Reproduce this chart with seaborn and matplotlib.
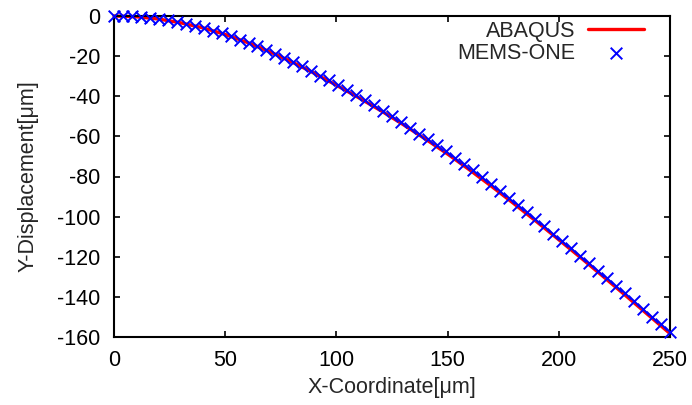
import matplotlib
matplotlib.use("Agg")
import matplotlib.pyplot as plt
import seaborn as sns
import pandas as pd

# ABAQUS reference curve
abaqus_x = [0, 10, 20, 30, 40, 50, 60, 70, 80, 90, 100, 110, 120, 130, 140,
            150, 160, 170, 180, 190, 200, 210, 220, 230, 240, 250]
abaqus_y = [0.0, -0.37, -1.5, -3.4, -5.9, -9.2, -13.2, -17.8, -22.9,
            -28.5, -34.5, -40.7, -47.2, -54.1, -61.3, -68.8, -76.8,
            -85.1, -93.7, -102.5, -111.5, -120.6, -129.9, -139.3,
            -148.8, -158.3]

# MEMS-ONE result points
mems_x = [0.0, 4.0, 8.1, 12.1, 16.1, 20.2, 24.2, 28.2, 32.3, 36.3, 40.3, 44.4,
          48.4, 52.4, 56.5, 60.5, 64.5, 68.5, 72.6, 76.6, 80.6, 84.7, 88.7,
          92.7, 96.8, 100.8, 104.8, 108.9, 112.9, 116.9, 121.0, 125.0, 129.0,
          133.1, 137.1, 141.1, 145.2, 149.2, 153.2, 157.3, 161.3, 165.3, 169.4,
          173.4, 177.4, 181.5, 185.5, 189.5, 193.5, 197.6, 201.6, 205.6, 209.7,
          213.7, 217.7, 221.8, 225.8, 229.8, 233.9, 237.9, 241.9, 246.0, 250.0]
mems_y = [0.0, -0.06, -0.24, -0.55, -0.98, -1.53, -2.20, -3.00, -3.91, -4.94,
          -6.08, -7.33, -8.70, -10.17, -11.75, -13.30, -15.00, -16.80, -18.70,
          -20.70, -22.80, -25.00, -27.30, -29.70, -32.10, -34.40, -36.80,
          -39.40, -42.00, -44.60, -47.30, -50.00, -52.80, -55.70, -58.60,
          -61.50, -64.50, -67.50, -70.60, -73.80, -77.00, -80.30, -83.80,
          -87.20, -90.60, -94.20, -97.70, -101.30, -104.90, -108.50, -112.20,
          -115.80, -119.50, -123.20, -127.00, -130.80, -134.50, -138.30,
          -142.20, -146.00, -149.80, -153.70, -157.40]

x_ticks = [0, 50, 100, 150, 200, 250]
y_ticks = [0, -20, -40, -60, -80, -100, -120, -140, -160]

sns.set_style("ticks")
plt.rcParams['font.family'] = ['Liberation Sans', 'DejaVu Sans']

fig = plt.figure(figsize=(6.92, 4.05), dpi=100)
ax = fig.add_axes([114 / 692, 1 - 337 / 405, 556 / 692, 321 / 405])

df_a = pd.DataFrame({"x": abaqus_x, "y": abaqus_y})
df_m = pd.DataFrame({"x": mems_x, "y": mems_y})

sns.lineplot(data=df_a, x="x", y="y", ax=ax, color="#ff0000", linewidth=2.4,
             label="ABAQUS", clip_on=False, zorder=2)
sns.scatterplot(data=df_m, x="x", y="y", ax=ax, marker="x", color="#0000ff",
                s=70, linewidth=1.4, label="MEMS-ONE", clip_on=False, zorder=3)

ax.set_xlim(0, 250)
ax.set_ylim(-160, 0)
ax.set_xticks(x_ticks)
ax.set_yticks(y_ticks)
ax.set_xticklabels([str(t) for t in x_ticks])
ax.set_yticklabels([str(t) for t in y_ticks])

fs = 15.5
ax.tick_params(axis="both", which="major", direction="in", length=4, width=1.2,
               top=True, right=True, labelsize=fs, colors="black")
ax.tick_params(axis="x", pad=9)
ax.tick_params(axis="y", pad=10)
for sp in ax.spines.values():
    sp.set_visible(True)
    sp.set_linewidth(1.5)
    sp.set_color("black")

ax.set_xlabel("X-Coordinate[\u03bcm]", fontsize=fs, labelpad=5)
ax.set_ylabel("Y-Displacement[\u03bcm]", fontsize=fs, labelpad=13)

leg = ax.legend(loc="upper right", bbox_to_anchor=(644 / 692, 1 - 21 / 405),
                bbox_transform=fig.transFigure, frameon=False, markerfirst=False,
                fontsize=fs, handlelength=2.6, handletextpad=0.6,
                labelspacing=0.05, borderpad=0, borderaxespad=0)

fig.savefig("out.png", dpi=100, facecolor="white")
